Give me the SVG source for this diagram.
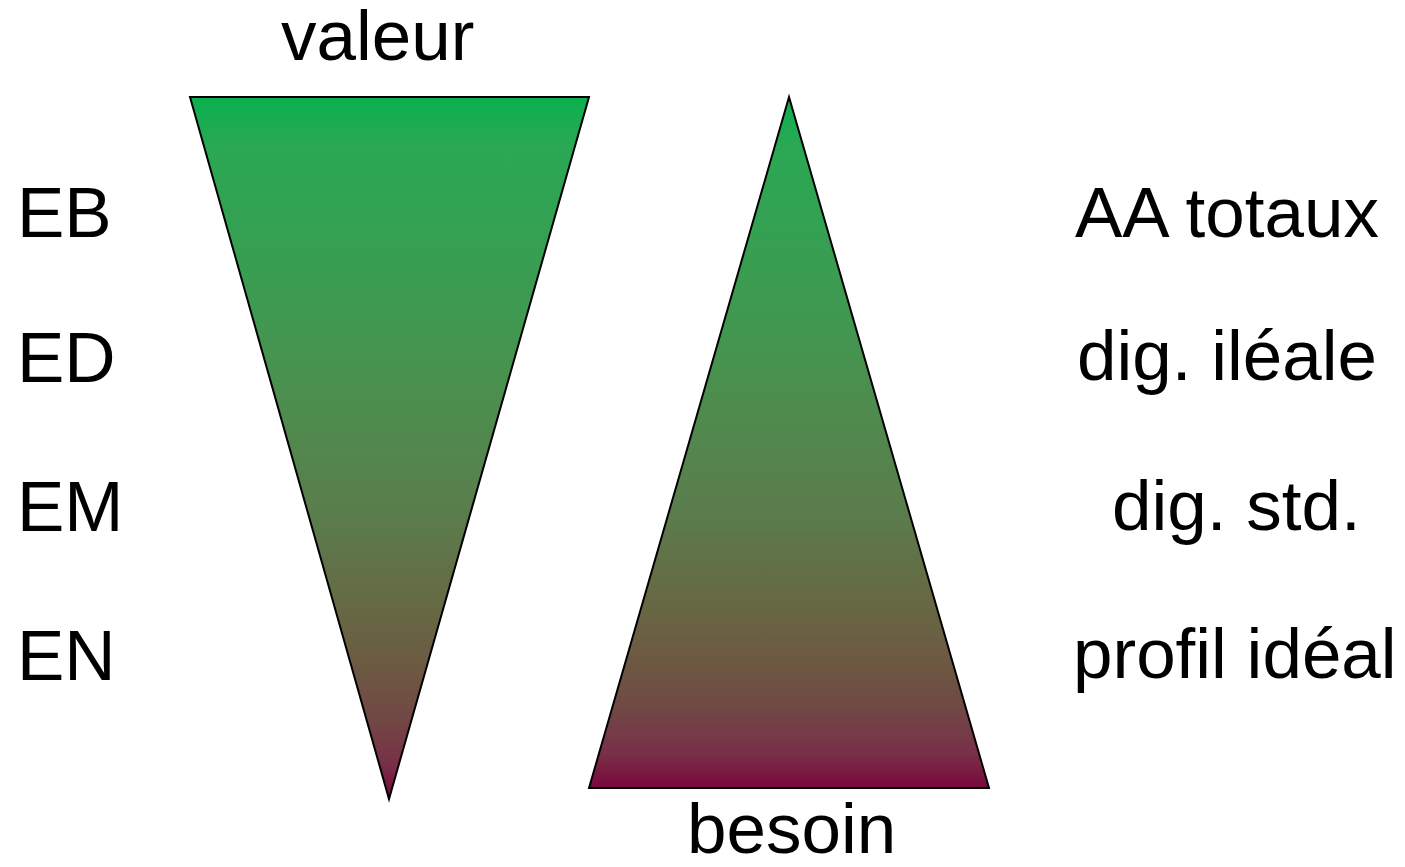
<svg xmlns="http://www.w3.org/2000/svg" width="1405" height="867" viewBox="0 0 1405 867">
  <style>
    .lbl { font-family: "Liberation Sans", Arial, sans-serif; font-size: 71px; fill: #000; }
    .tri { stroke: #000; stroke-width: 2; stroke-linejoin: miter; }
  </style>
  <defs>
    <linearGradient id="g" x1="0" y1="0" x2="0" y2="1">
      <stop offset="0" stop-color="#0bb050"/>
      <stop offset="0.07" stop-color="#2aa854"/>
      <stop offset="0.3" stop-color="#3e9a50"/>
      <stop offset="0.45" stop-color="#4e8c4e"/>
      <stop offset="0.6" stop-color="#5b7c4c"/>
      <stop offset="0.72" stop-color="#666a44"/>
      <stop offset="0.8" stop-color="#6c5c42"/>
      <stop offset="0.88" stop-color="#704a44"/>
      <stop offset="0.95" stop-color="#783048"/>
      <stop offset="1" stop-color="#7a063c"/>
    </linearGradient>
  </defs>
  <rect width="1405" height="867" fill="#fff"/>
  <g id="valeur-triangle">
    <polygon class="tri" points="190,97 589,97 389,799" fill="url(#g)"/>
    <text class="lbl" x="281" y="60">valeur</text>
  </g>
  <g id="besoin-triangle">
    <polygon class="tri" points="789,97 989,788 589,788" fill="url(#g)"/>
    <text class="lbl" x="687" y="853">besoin</text>
  </g>
  <g id="left-labels">
    <text class="lbl" x="17" y="237">EB</text>
    <text class="lbl" x="17" y="382">ED</text>
    <text class="lbl" x="17" y="531">EM</text>
    <text class="lbl" x="17" y="680">EN</text>
  </g>
  <g id="right-labels">
    <text class="lbl" x="1075" y="237">AA totaux</text>
    <text class="lbl" x="1077" y="380">dig. iléale</text>
    <text class="lbl" x="1112" y="530">dig. std.</text>
    <text class="lbl" x="1073" y="678">profil idéal</text>
  </g>
  <g id="connectors"/>
</svg>
